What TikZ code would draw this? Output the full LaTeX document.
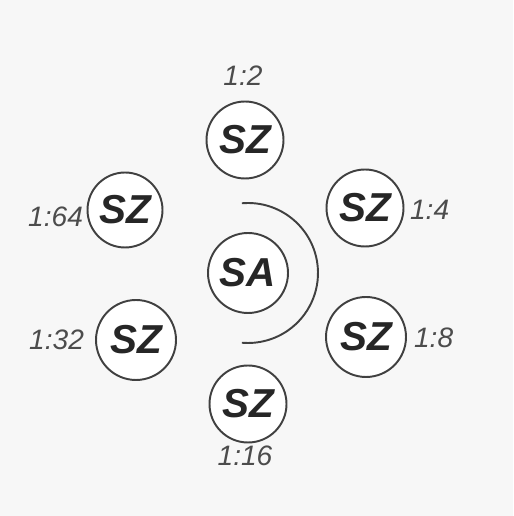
\documentclass[tikz,border=0pt]{standalone}
\usepackage{fontspec}
\setmainfont{Liberation Sans}
\begin{document}
\begin{tikzpicture}[x=0.02cm,y=0.02cm,
    ring/.style={circle, draw=black!75, line width=1.1pt, fill=white,
      minimum size=1.54cm, inner sep=0pt, text=black!85,
      font=\fontsize{23}{26}\selectfont\bfseries\itshape},
    ratio/.style={text=black!70, inner sep=1pt,
      font=\fontsize{16}{18}\selectfont\itshape}]
    \fill[black!3] (0,0) rectangle (513,516);
    \useasboundingbox (0,0) rectangle (513,516);
    % central unit and its shield
    \node[ring, minimum size=1.6cm] (sa) at (248,243) {SA};
    \draw[black!75, line width=1.1pt] (sa.center) ++(95:1.4cm)
        arc[start angle=95, end angle=-95, radius=1.4cm];
    % dividers
    \node[ring] (sz2)  at (245,376) {SZ};
    \node[ring] (sz4)  at (365,308) {SZ};
    \node[ring, minimum size=1.6cm] (sz8)  at (366,179) {SZ};
    \node[ring] (sz16) at (248,112) {SZ};
    \node[ring, minimum size=1.6cm] (sz32) at (136,176) {SZ};
    \node[ring, minimum size=1.5cm] (sz64) at (125,306) {SZ};
    % ratios
    \node[ratio, anchor=south] (r2)  at (243,428) {1:2};
    \node[ratio, anchor=west]  (r4)  at (408,306) {1:4};
    \node[ratio, anchor=west]  (r8)  at (412,178) {1:8};
    \node[ratio, anchor=north] (r16) at (245,72)  {1:16};
    \node[ratio, anchor=east]  (r32) at (86,176)  {1:32};
    \node[ratio, anchor=east]  (r64) at (85,299)  {1:64};
\end{tikzpicture}
\end{document}
